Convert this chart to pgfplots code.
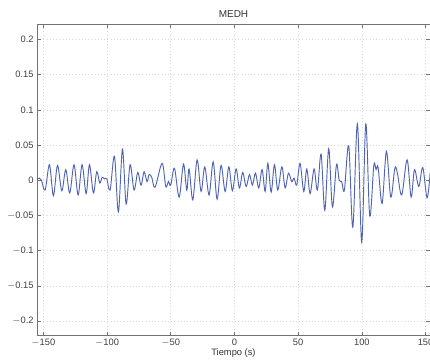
\documentclass[border=0pt]{standalone}
\usepackage{pgfplots}
\pgfplotsset{compat=1.18}
\usepackage{fontspec}
\setmainfont{Liberation Sans}
\definecolor{sig}{RGB}{80,100,178}
\pgfplotstableread{
x y
-155.2 0.001
-153.1 0.003
-151.5 0.000
-148.6 -0.014
-145.2 0.022
-142.1 -0.022
-138.9 0.021
-135.5 -0.015
-132.4 0.015
-129.3 -0.018
-125.9 0.022
-122.7 -0.021
-119.6 0.022
-116.4 -0.019
-113.8 0.022
-110.7 -0.018
-108.1 0.012
-105.7 -0.004
-103.9 0.004
-102.0 0.002
-100.2 0.002
-97.6 -0.014
-94.2 0.034
-91.1 -0.045
-87.9 0.044
-85.0 -0.034
-81.9 0.022
-78.8 -0.014
-75.9 0.011
-73.3 -0.007
-70.9 0.012
-68.6 -0.002
-67.0 0.008
-64.9 0.004
-62.3 -0.010
-56.8 0.024
-53.9 -0.009
-51.8 -0.002
-50.0 -0.007
-47.1 0.017
-43.4 -0.024
-40.0 0.023
-37.4 -0.014
-35.6 0.016
-32.7 -0.028
-29.3 0.029
-26.2 -0.016
-23.3 0.019
-19.9 -0.021
-16.7 0.026
-13.6 -0.027
-10.5 0.021
-7.3 -0.016
-4.4 0.019
-1.6 -0.015
1.3 0.016
3.9 -0.011
6.5 0.011
9.2 -0.009
11.8 0.008
14.1 -0.007
16.5 0.010
19.1 -0.011
21.7 0.015
24.1 -0.016
26.2 0.024
28.8 -0.017
31.4 0.022
34.0 -0.014
37.2 0.019
39.8 -0.011
42.4 0.010
45.0 -0.002
46.8 0.003
48.9 -0.007
51.5 0.024
54.4 -0.016
56.8 0.016
59.4 -0.019
62.5 0.016
65.1 -0.014
68.0 0.037
70.9 -0.043
74.0 0.045
76.9 -0.038
80.1 0.022
82.2 0.000
84.2 -0.002
86.3 -0.014
89.7 0.049
92.9 -0.067
96.5 0.080
99.9 -0.088
103.1 0.080
106.2 -0.051
109.4 0.021
111.2 0.015
112.8 0.018
115.9 -0.033
119.3 0.041
122.7 -0.024
125.9 0.017
127.9 0.010
131.3 -0.021
135.5 0.029
138.7 -0.024
141.3 0.015
144.7 -0.009
147.8 0.018
151.2 -0.025
153.6 0.010
}\sig
\begin{document}
\begin{tikzpicture}
\begin{axis}[
  scale only axis,
  width=295pt, height=234pt,
  xmin=-155, xmax=153.5,
  ymin=-0.221, ymax=0.222,
  xtick={-150,-100,...,150},
  ytick={-0.2,-0.15,...,0.2},
  yticklabels={$-$0.2,$-$0.15,$-$0.1,$-$0.05,0,0.05,0.1,0.15,0.2},
  xticklabels={$-$150,$-$100,$-$50,0,50,100,150},
  tick label style={font=\fontsize{7}{8}\selectfont, text=black!75},
  /pgf/number format/assume math mode=true,
  tick align=inside,
  major tick length=3pt,
  tick style={black!55, line width=0.4pt},
  axis line style={black!55, line width=0.5pt},
  grid=major,
  major grid style={dotted, gray!30, line width=0.4pt},
  title={MEDH},
  title style={font=\fontsize{7.5}{9}\selectfont, text=black!80, yshift=-5pt},
  xlabel={Tiempo (s)},
  xlabel style={font=\fontsize{7}{8}\selectfont, text=black!80, yshift=5pt},
  xticklabel style={yshift=1pt},
  yticklabel style={xshift=1pt},
]
\addplot[sig, line width=0.7pt, smooth, tension=0.55] table[x=x,y=y] {\sig};
\end{axis}
\pgfresetboundingbox
\path[use as bounding box] ([xshift=-27.75pt,yshift=-19.5pt]current axis.south west) rectangle ([yshift=18pt]current axis.north east);
\end{tikzpicture}
\end{document}
